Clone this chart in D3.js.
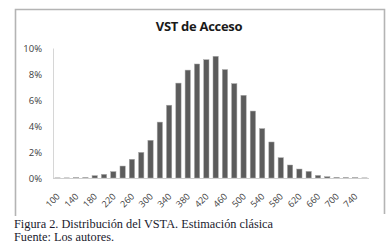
<!DOCTYPE html>
<html>
<head>
<meta charset="utf-8">
<script src="https://cdn.jsdelivr.net/npm/d3@7"></script>
<style>
  html, body { margin: 0; padding: 0; background: #fff; }
  svg { display: block; }
</style>
</head>
<body>
<div id="chart"></div>
<script>
// ── Data ────────────────────────────────────────────────
const scores = d3.range(100, 761, 20);   // class marks 100..760
const shares = [
  0.01, 0.01, 0.02, 0.03, 0.18, 0.28, 0.49, 0.92, 1.44, 1.97,
  2.9, 4.3, 5.6, 7.3, 8.3, 8.77, 9.1, 9.36, 8.34, 7.26,
  6.36, 5.15, 3.8, 2.77, 1.56, 1.0, 0.69, 0.51, 0.2, 0.1,
  0.05, 0.03, 0.02, 0.01
];
const yTicks = [0, 2, 4, 6, 8, 10];
const xLabels = d3.range(100, 741, 40);

const W = 391, H = 252;
const plot = { left: 53, right: 369, top: 48, bottom: 178 };

const svg = d3.select("#chart").append("svg")
  .attr("width", W).attr("height", H);

// frame around chart (no bottom edge, caption sits below)
svg.append("path")
  .attr("d", "M15.5,216 V9.5 H384.5 V214")
  .attr("fill", "none")
  .attr("stroke", "#b4b4b4")
  .attr("stroke-width", 1.6);

const x = d3.scaleBand()
  .domain(scores)
  .range([plot.left, plot.right])
  .paddingInner(0.43)
  .paddingOuter(0.2);

const y = d3.scaleLinear()
  .domain([0, 10])
  .range([plot.bottom, plot.top]);

// title
svg.append("text")
  .attr("x", 199).attr("y", 31)
  .attr("text-anchor", "middle")
  .style("font-family", "'Open Sans', sans-serif")
  .style("font-weight", "bold")
  .style("font-size", "13px")
  .style("letter-spacing", "-0.3px")
  .attr("fill", "#1a1a1a")
  .text("VST de Acceso");

// y axis
const yAxis = svg.append("g")
  .attr("transform", `translate(${plot.left},0)`)
  .call(d3.axisLeft(y).tickValues(yTicks).tickSize(0).tickPadding(11).tickFormat(d => d + "%"));
yAxis.select(".domain").attr("stroke", "#d6d6d6");
yAxis.selectAll("text")
  .style("font-family", "'Open Sans', sans-serif")
  .style("font-size", "9.5px")
  .attr("fill", "#404040");

// bars
svg.selectAll(".bar")
  .data(scores)
  .join("rect")
    .attr("class", "bar")
    .attr("x", d => x(d))
    .attr("width", x.bandwidth())
    .attr("y", (d, i) => y(shares[i]))
    .attr("height", (d, i) => plot.bottom - y(shares[i]))
    .attr("fill", "#5c5c5c")
    .attr("stroke", "#a8a8a8")
    .attr("stroke-width", 0.5);

// x axis — labels rotated 45°, right end sitting just under each tick
const xAxis = svg.append("g")
  .attr("transform", `translate(0,${plot.bottom})`)
  .call(d3.axisBottom(x).tickValues(xLabels).tickSize(0));
xAxis.select(".domain")
  .attr("stroke", "#cfcfcf")
  .attr("d", `M${plot.left},0.5H${plot.right}`);
xAxis.selectAll("text")
  .style("font-family", "'Open Sans', sans-serif")
  .style("font-size", "9px")
  .attr("fill", "#404040")
  .attr("text-anchor", "end")
  .attr("y", 0)
  .attr("dy", 0)
  .attr("transform", "translate(3,19) rotate(-45)");

// caption
const cap = svg.append("g")
  .style("font-family", "'Liberation Serif', 'Times New Roman', serif")
  .style("font-size", "12.3px")
  .attr("fill", "#1a1a2e");
cap.append("text").attr("x", 14).attr("y", 227.5)
  .text("Figura 2. Distribución del VSTA. Estimación clásica");
cap.append("text").attr("x", 14).attr("y", 240.5)
  .text("Fuente: Los autores.");
</script>
</body>
</html>
